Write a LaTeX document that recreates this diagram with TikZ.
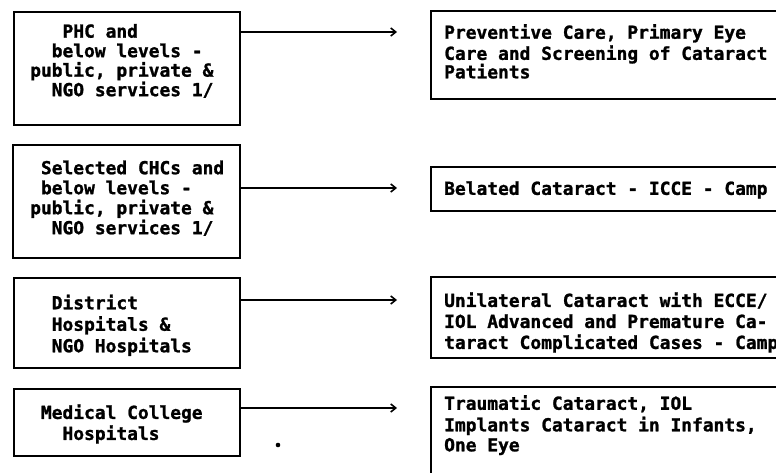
\documentclass[tikz,border=0pt]{standalone}
\usepackage{fontspec}
\setmonofont{DejaVu Sans Mono}[BoldFeatures={FakeBold=1.3}]
\usetikzlibrary{arrows.meta}
\newlength\chw
\setlength\chw{10.78pt}
\newcommand\ind[1]{\hspace*{#1\chw}}
\begin{document}
\begin{tikzpicture}[x=1pt,y=-1pt,
  box/.style={draw, line width=1.8pt, inner sep=0pt, outer sep=0pt},
  txt/.style={anchor=north west, inner sep=0pt, align=left},
  sk/.style={font=\ttfamily\bfseries\fontsize{17.9}{#1}\selectfont},
  arr/.style={line width=1.6pt, -{Straight Barb[length=5pt,width=8pt,line width=1.6pt]}}]
\useasboundingbox (0,0) rectangle (776,473);
\clip (0,0) rectangle (776,473);
% left boxes
\node[box, minimum width=226pt, minimum height=113pt] (L1) at (127,68.5) {};
\node[box, minimum width=227pt, minimum height=113pt] (L2) at (126.5,201.5) {};
\node[box, minimum width=226pt, minimum height=90pt] (L3) at (127,323) {};
\node[box, minimum width=226pt, minimum height=67pt] (L4) at (127,422.5) {};
% right boxes
\node[box, minimum width=369pt, minimum height=88pt] (R1) at (615.5,55) {};
\node[box, minimum width=369pt, minimum height=44pt] (R2) at (615.5,189) {};
\node[box, minimum width=369pt, minimum height=81pt] (R3) at (615.5,317.5) {};
\node[box, minimum width=369pt, minimum height=113pt] (R4) at (615.5,443.5) {};
% left texts
\node[txt, sk=19.5] (T1) at (30,23.8) {\strut\ind{3}PHC and\\\ind{2}below levels -\\public, private \&\\\ind{2}NGO services 1/};
\node[txt, sk=20] (T2) at (30,160) {\strut\ind{1}Selected CHCs and\\\ind{1}below levels -\\public, private \&\\\ind{2}NGO services 1/};
\node[txt, sk=21.5] (T3) at (30,294) {\strut\ind{2}District\\\ind{2}Hospitals \&\\\ind{2}NGO Hospitals};
\node[txt, sk=21] (T4) at (30,404) {\strut\ind{1}Medical College\\\ind{3}Hospitals};
% right texts
\node[txt, sk=18.5] (U1) at (444,24) {\strut Preventive Care, Primary Eye\\Care and Screening of Cataract\\Patients};
\node[txt, sk=19.5] (U2) at (444,181) {\strut Belated Cataract - ICCE - Camp};
\node[txt, sk=21] (U3) at (444,292) {\strut Unilateral Cataract with ECCE/\\IOL Advanced and Premature Ca-\\taract Complicated Cases - Camp};
\node[txt, sk=20] (U4) at (444,395) {\strut Traumatic Cataract, IOL\\Implants Cataract in Infants,\\One Eye};
% arrows
\coordinate (e1) at (397,32);
\coordinate (e2) at (397,188);
\coordinate (e3) at (397,300);
\coordinate (e4) at (397,408);
\draw[arr] (L1.east |- e1) -- (e1);
\draw[arr] (L2.east |- e2) -- (e2);
\draw[arr] (L3.east |- e3) -- (e3);
\draw[arr] (L4.east |- e4) -- (e4);
% stray dot
\fill (278,445) circle (2.3pt);
\end{tikzpicture}
\end{document}
